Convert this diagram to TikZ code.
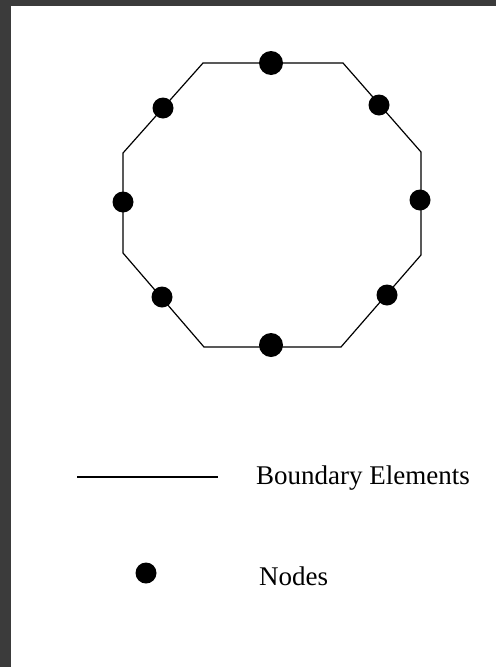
\documentclass[tikz,border=0pt]{standalone}
\usepackage{fontspec}
\setmainfont{Liberation Serif}
\begin{document}
\begin{tikzpicture}[x=1pt,y=-1pt,
  bnd/.style={line width=1.2pt,line join=miter},
  bnode/.style={circle,fill=black,inner sep=0pt,minimum size=21pt},
  lbl/.style={font=\fontsize{27}{31}\selectfont,anchor=base west,inner sep=0pt}]
\useasboundingbox (0,0) rectangle (496,667);
\fill[fill={rgb,255:red,59;green,59;blue,59}] (0,0) rectangle (496,6);
\fill[fill={rgb,255:red,59;green,59;blue,59}] (0,0) rectangle (11,667);
% octagon vertices
\coordinate (v1) at (203,63);
\coordinate (v2) at (343,63);
\coordinate (v3) at (421,152);
\coordinate (v4) at (421,255);
\coordinate (v5) at (341,347);
\coordinate (v6) at (204,347);
\coordinate (v7) at (123,253);
\coordinate (v8) at (123,153);
\draw[bnd] (v1) -- (v2) -- (v3) -- (v4) -- (v5) -- (v6) -- (v7) -- (v8) -- cycle;
% nodes
\node[bnode,minimum height=24pt] (n1) at (271,63) {};
\node[bnode] (n2) at (379,105) {};
\node[bnode] (n3) at (420,200) {};
\node[bnode] (n4) at (387,295) {};
\node[bnode,minimum height=24pt] (n5) at (271,345) {};
\node[bnode] (n6) at (162,297) {};
\node[bnode] (n7) at (123,202) {};
\node[bnode] (n8) at (163,108) {};
% legend
\coordinate (la) at (77,477);
\coordinate (lb) at (218,477);
\draw[bnd] (la) -- (lb);
\node[lbl] (t1) at (256,484) {Boundary Elements};
\node[bnode] (ld) at (146,573) {};
\node[lbl] (t2) at (259,585) {Nodes};
\end{tikzpicture}
\end{document}
